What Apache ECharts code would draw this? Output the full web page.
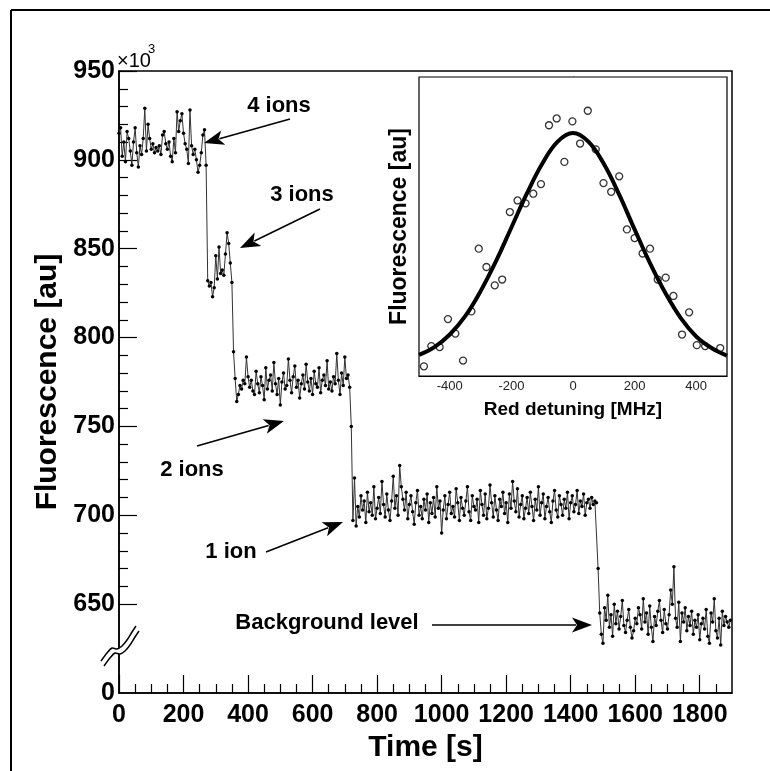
<!DOCTYPE html>
<html><head><meta charset="utf-8">
<script src="https://cdn.jsdelivr.net/npm/echarts@6/dist/echarts.min.js"></script>
<style>html,body{margin:0;padding:0;background:#fff}#c{width:770px;height:771px}</style>
</head><body><div id="c"></div>
<script>
// ---------------- data ----------------
const STEP = 5; // sampling interval [s]
const segmentStarts = [0, 275, 355, 720, 1485];
const fourIons = [915, 918, 902, 910, 899, 916, 912, 905, 897, 910,
  918, 904, 896, 908, 903, 912, 929, 905, 920, 912,
  906, 909, 904, 907, 905, 908, 903, 914, 916, 909,
  906, 910, 902, 899, 912, 904, 927, 916, 922, 926,
  915, 909, 906, 898, 928, 908, 903, 906, 900, 893,
  897, 904, 914, 917, 897];
const threeIons = [832, 829, 831, 823, 828, 846, 833, 851, 836, 838, 835, 847, 859, 853, 842, 831];
const twoIons = [792,
  777, 764, 768, 773, 771, 776, 774, 789, 778, 772,
  776, 770, 768, 781, 774, 769, 778, 773, 765, 783,
  771, 776, 779, 770, 786, 774, 768, 777, 762, 775,
  780, 771, 773, 788, 776, 769, 778, 784, 772, 776,
  766, 774, 779, 771, 785, 775, 770, 777, 768, 781,
  774, 772, 783, 769, 776, 779, 773, 787, 771, 775,
  770, 778, 774, 791, 776, 768, 780, 773, 789, 777,
  779, 772];
const oneIon = [750,
  697, 721, 694, 705, 699, 711, 703, 708, 696, 713,
  702, 707, 700, 716, 698, 704, 710, 701, 719, 706,
  699, 712, 703, 697, 708, 722, 704, 711, 700, 728,
  716, 709, 703, 713, 698, 706, 711, 702, 695, 707,
  714, 700, 705, 698, 709, 703, 712, 696, 707, 701,
  710, 699, 716, 704, 708, 690, 703, 711, 698, 706,
  713, 701, 705, 699, 715, 707, 697, 710, 704, 700,
  708, 716, 702, 697, 711, 705, 703, 709, 696, 714,
  706, 700, 712, 698, 704, 717, 707, 699, 711, 703,
  697, 709, 705, 713, 701, 707, 696, 712, 704, 719,
  708, 702, 715, 699, 706, 711, 698, 704, 710, 701,
  713, 705, 697, 709, 703, 716, 700, 707, 712, 698,
  705, 710, 702, 696, 708, 714, 703, 699, 711, 706,
  700, 709, 704, 713, 698, 707, 711, 702, 706, 714,
  701, 708, 705, 712, 700, 707, 709, 704, 710, 706,
  708, 707];
const background = [670,
  645, 633, 628, 648, 641, 655, 637, 644, 632, 650,
  639, 646, 636, 643, 652, 638, 634, 641, 647, 637,
  631, 635, 642, 639, 648, 644, 636, 653, 640, 645,
  633, 649, 637, 629, 643, 638, 646, 652, 641, 634,
  647, 639, 636, 644, 658, 650, 671, 642, 637, 651,
  629, 645, 640, 648, 635, 643, 638, 646, 633, 641,
  637, 644, 630, 639, 642, 636, 647, 632, 628, 645,
  640, 653, 635, 631, 642, 627, 646, 638, 643, 640,
  637, 641];

// inset: measured points and fitted curve (arbitrary units)
const insetX = [-484, -460, -433, -406, -382, -357, -330, -306, -281, -254, -230, -205, -180, -154, -129, -104, -78, -53, -28, -2,
  23, 48, 74, 99, 124, 150, 175, 200, 226, 250, 275, 301, 326, 354, 377, 402, 429, 478];
const insetY = [1.0, 3.1, 3.0, 5.9, 4.4, 1.6, 6.7, 13.2, 11.3, 9.4, 10.0, 17.0, 18.2, 17.9, 18.9, 19.9, 26.0, 26.7, 22.2, 26.4,
  24.1, 27.5, 23.5, 20.0, 19.1, 20.7, 15.2, 14.3, 12.7, 13.2, 10.0, 10.2, 8.3, 4.3, 6.6, 3.2, 3.1, 2.9];
const fitX = [-500, -450, -400, -350, -300, -250, -200, -150, -100, -50, 0, 50, 100, 150, 200, 250, 300, 350, 400, 450, 500];
const fitY = [2.2, 3.0, 4.3, 6.2, 8.8, 11.9, 15.4, 18.9, 22.0, 24.3, 25.2, 24.3, 22.0, 18.8, 15.2, 11.7, 8.6, 6.0, 4.1, 2.9, 2.1];

// ticks
const xMajorTicks = [0, 200, 400, 600, 800, 1000, 1200, 1400, 1600, 1800];
const xMinorTicks = [50, 100, 150, 250, 300, 350, 450, 500, 550, 650, 700, 750, 850, 900, 950, 1050, 1100, 1150,
  1250, 1300, 1350, 1450, 1500, 1550, 1650, 1700, 1750, 1850];
const yLabelTicks = [600, 650, 700, 750, 800, 850, 900, 950]; // 600 stands for the "0" below the axis break
const yMajorTicks = [650, 700, 750, 800, 850, 900, 950];
const yMinorTicks = [660, 670, 680, 690, 710, 720, 730, 740, 760, 770, 780, 790, 810, 820, 830, 840,
  860, 870, 880, 890, 910, 920, 930, 940];
const insetXTicks = [-400, -200, 0, 200, 400];
const insetXMinor = [-300, -100, 100, 300];
const insetYTicks = [1, 2, 3, 4, 5, 6, 7, 8, 9, 10, 11, 12, 13, 14, 15, 16, 17, 18, 19, 20, 21, 22, 23, 24, 25, 26, 27, 28, 29, 30];

// ---------------- build ----------------
const mainData = [];
[fourIons, threeIons, twoIons, oneIon, background].forEach((vals, s) => {
  vals.forEach((v, i) => mainData.push([segmentStarts[s] + i * STEP, v]));
});
const fitData = fitX.map((x, i) => [x, fitY[i]]);
const pointData = insetX.map((x, i) => [x, insetY[i]]);

const FONT = '"Liberation Sans", Arial, Helvetica, sans-serif';
const NARROW = '"Liberation Sans Narrow", "Arial Narrow", "Liberation Sans", Arial, sans-serif';
const black = '#000';

function arrow(x1, y1, x2, y2) {
  const dx = x2 - x1, dy = y2 - y1, len = Math.hypot(dx, dy);
  const ux = dx / len, uy = dy / len, L = 20, W = 15;
  const bx = x2 - ux * L, by = y2 - uy * L;
  const nx = -uy, ny = ux;
  return [
    { type: 'line', shape: { x1, y1, x2: bx + ux * 4, y2: by + uy * 4 }, style: { stroke: black, lineWidth: 1.5 }, z: 20 },
    { type: 'polygon', shape: { points: [[x2, y2], [bx + nx * W / 2, by + ny * W / 2], [bx + ux * 5, by + uy * 5], [bx - nx * W / 2, by - ny * W / 2]] },
      style: { fill: black }, z: 20 }
  ];
}
function label(text, x, y, size) {
  return { type: 'text', x, y, z: 20, style: { text, font: 'bold ' + (size || 22) + 'px ' + FONT, fill: black, align: 'center', verticalAlign: 'middle' } };
}

const breakUpper = [[101, 661], [107, 653], [112, 648], [117, 649], [122, 646], [127, 640], [132, 632], [136, 626]];
const breakLower = breakUpper.map(p => [p[0] + 3, p[1] + 5]);

const graphics = [
  { type: 'line', shape: { x1: 11, y1: 10, x2: 11, y2: 771 }, style: { stroke: black, lineWidth: 2 } },
  { type: 'line', shape: { x1: 11, y1: 10, x2: 770, y2: 10 }, style: { stroke: black, lineWidth: 2 } },
  { type: 'text', x: 117, y: 61, style: { text: '\u00d710', font: '20px ' + FONT, fill: black, align: 'left', verticalAlign: 'middle' } },
  { type: 'text', x: 148, y: 49, style: { text: '3', font: '13px ' + FONT, fill: black, align: 'left', verticalAlign: 'middle' } },
  { type: 'polygon', shape: { points: breakUpper.concat(breakLower.slice().reverse()) }, style: { fill: '#fff' }, z: 30 },
  { type: 'polyline', shape: { points: breakUpper, smooth: 0.3 }, style: { stroke: black, lineWidth: 1.5, fill: null }, z: 31 },
  { type: 'polyline', shape: { points: breakLower, smooth: 0.3 }, style: { stroke: black, lineWidth: 1.5, fill: null }, z: 31 },
  label('4 ions', 279, 106), ...arrow(290, 119, 204, 143),
  label('3 ions', 302, 195), ...arrow(320, 209, 240, 248),
  label('2 ions', 192, 470), ...arrow(197, 446, 284, 421),
  label('1 ion', 231, 552), ...arrow(266, 552, 343, 522),
  label('Background level', 327, 623), ...arrow(432, 625, 592, 625)
];

const mainRect = { left: 119, right: 38, top: 71, bottom: 78 };
const insetRect = { left: 419, right: 43, top: 77, bottom: 395 };

const option = {
  animation: false,
  backgroundColor: '#fff',
  textStyle: { fontFamily: FONT },
  grid: [
    Object.assign({ show: true, borderColor: black, borderWidth: 1.5, backgroundColor: 'transparent' }, mainRect),
    Object.assign({ show: false }, mainRect),
    Object.assign({ show: true, borderColor: black, borderWidth: 1.2, backgroundColor: '#fff', z: 3 }, insetRect),
    Object.assign({ show: false }, insetRect)
  ],
  xAxis: [
    { gridIndex: 0, type: 'value', min: 0, max: 1900,
      axisLine: { lineStyle: { color: black, width: 1.5 } },
      axisTick: { inside: true, length: 18, customValues: xMajorTicks, lineStyle: { color: black, width: 1.2 } },
      axisLabel: { customValues: xMajorTicks, fontSize: 25, fontWeight: 'bold', color: black, margin: 10, fontFamily: NARROW,
        formatter: v => String(v) },
      splitLine: { show: false },
      name: 'Time [s]', nameLocation: 'middle', nameGap: 38,
      nameTextStyle: { fontSize: 30, fontWeight: 'bold', color: black, fontFamily: FONT } },
    { gridIndex: 1, type: 'value', min: 0, max: 1900,
      axisLine: { show: false },
      axisTick: { inside: true, length: 9, customValues: xMinorTicks, lineStyle: { color: black, width: 1.2 } },
      axisLabel: { show: false }, splitLine: { show: false } },
    { gridIndex: 2, type: 'value', min: -500, max: 500,
      axisLine: { lineStyle: { color: black, width: 1.2 } },
      axisTick: { inside: true, length: 10, customValues: insetXTicks, lineStyle: { color: black, width: 1 } },
      axisLabel: { customValues: insetXTicks, fontSize: 13, color: '#222', margin: 4, fontFamily: FONT,
        formatter: v => String(v) },
      splitLine: { show: false },
      name: 'Red detuning [MHz]', nameLocation: 'middle', nameGap: 24,
      nameTextStyle: { fontSize: 19, fontWeight: 'bold', color: black, fontFamily: FONT } },
    { gridIndex: 3, type: 'value', min: -500, max: 500,
      axisLine: { show: false },
      axisTick: { inside: true, length: 6, customValues: insetXMinor, lineStyle: { color: black, width: 1 } },
      axisLabel: { show: false }, splitLine: { show: false } }
  ],
  yAxis: [
    { gridIndex: 0, type: 'value', min: 600, max: 950,
      axisLine: { lineStyle: { color: black, width: 1.5 } },
      axisTick: { inside: true, length: 18, customValues: yMajorTicks, lineStyle: { color: black, width: 1.2 } },
      axisLabel: { customValues: yLabelTicks, fontSize: 25, fontWeight: 'bold', color: black, margin: 4, fontFamily: NARROW,
        formatter: v => (v === 600 ? '0' : String(v)) },
      splitLine: { show: false },
      name: 'Fluorescence [au]', nameLocation: 'middle', nameGap: 50,
      nameTextStyle: { fontSize: 30, fontWeight: 'bold', color: black, fontFamily: FONT } },
    { gridIndex: 1, type: 'value', min: 600, max: 950,
      axisLine: { show: false },
      axisTick: { inside: true, length: 9, customValues: yMinorTicks, lineStyle: { color: black, width: 1.2 } },
      axisLabel: { show: false }, splitLine: { show: false } },
    { gridIndex: 2, type: 'value', min: 0, max: 31,
      axisLine: { lineStyle: { color: black, width: 1.2 } },
      axisTick: { inside: true, length: 5, customValues: insetYTicks, lineStyle: { color: black, width: 1 } },
      axisLabel: { show: false }, splitLine: { show: false },
      name: 'Fluorescence [au]', nameLocation: 'middle', nameGap: 8,
      nameTextStyle: { fontSize: 23, fontWeight: 'bold', color: black, fontFamily: FONT } },
    { gridIndex: 3, type: 'value', min: 0, max: 31, show: false }
  ],
  series: [
    { type: 'line', xAxisIndex: 0, yAxisIndex: 0, data: mainData,
      symbol: 'circle', symbolSize: 3.5, showSymbol: true,
      lineStyle: { color: '#333', width: 1 }, itemStyle: { color: black }, z: 5 },
    { type: 'scatter', xAxisIndex: 2, yAxisIndex: 2, data: pointData,
      symbol: 'circle', symbolSize: 7,
      itemStyle: { color: 'rgba(255,255,255,0)', borderColor: black, borderWidth: 1.3 }, z: 6 },
    { type: 'line', xAxisIndex: 2, yAxisIndex: 2, data: fitData, smooth: 0.4,
      showSymbol: false, symbol: 'none', lineStyle: { color: black, width: 4 }, z: 7 }
  ],
  graphic: graphics
};

const chart = echarts.init(document.getElementById('c'), null, { renderer: 'canvas' });
chart.setOption(option);
</script>
</body></html>
